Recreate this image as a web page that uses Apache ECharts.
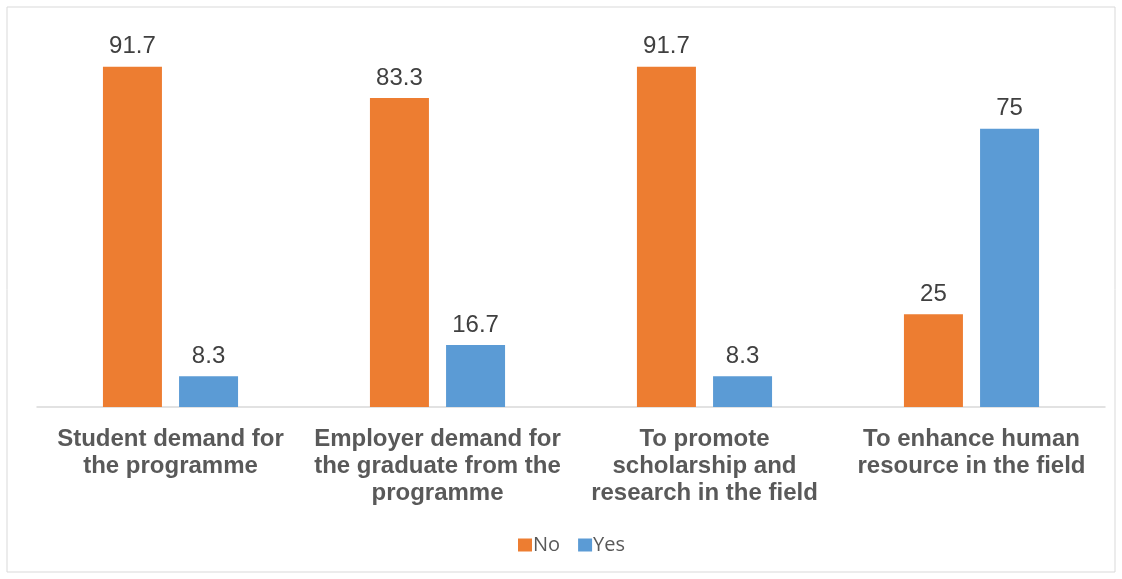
<!DOCTYPE html>
<html>
<head>
<meta charset="utf-8">
<style>
  html, body { margin: 0; padding: 0; background: #ffffff; }
  #chart { width: 1122px; height: 579px; }
</style>
<script src="https://cdn.jsdelivr.net/npm/echarts@6/dist/echarts.min.js"></script>
</head>
<body>
<div id="chart"></div>
<script>
// Reasons given, with the share of respondents answering No / Yes (%)
const categories = [
  'Student demand for\nthe programme',
  'Employer demand for\nthe graduate from the\nprogramme',
  'To promote\nscholarship and\nresearch in the field',
  'To enhance human\nresource in the field'
];
const noValues = [91.7, 83.3, 91.7, 25];
const yesValues = [8.3, 16.7, 8.3, 75];

const chart = echarts.init(document.getElementById('chart'), null, { renderer: 'canvas' });

const valueLabel = {
  show: true,
  position: 'top',
  distance: 8,
  fontFamily: "'Liberation Sans'",
  fontSize: 24,
  color: '#404040'
};

chart.setOption({
  animation: false,
  backgroundColor: '#ffffff',
  graphic: [{
    type: 'rect',
    shape: { x: 7, y: 7, width: 1108, height: 565 },
    style: { fill: 'none', stroke: '#d9d9d9', lineWidth: 1 },
    silent: true
  }],
  grid: { left: 37, right: 17, top: 36, bottom: 172 },
  legend: {
    bottom: 19,
    left: 513,
    itemWidth: 14,
    itemHeight: 13,
    itemGap: 18,
    icon: 'rect',
    textStyle: { fontFamily: "'Open Sans'", fontSize: 20, color: '#595959', padding: [0, 0, 0, -4] },
    data: ['No', 'Yes']
  },
  xAxis: {
    type: 'category',
    data: categories,
    axisLine: { lineStyle: { color: '#d9d9d9', width: 1.5 } },
    axisTick: { show: false },
    axisLabel: {
      interval: 0,
      margin: 19,
      fontFamily: "'Liberation Sans'",
      fontWeight: 'bold',
      fontSize: 24,
      lineHeight: 27,
      color: '#595959',
      align: 'center'
    }
  },
  yAxis: {
    type: 'value',
    min: 0,
    max: 100,
    show: false,
    splitLine: { show: false }
  },
  series: [
    {
      name: 'No',
      type: 'bar',
      data: noValues,
      barWidth: 59,
      barGap: '29%',
      itemStyle: { color: '#ED7D31' },
      label: valueLabel
    },
    {
      name: 'Yes',
      type: 'bar',
      data: yesValues,
      barWidth: 59,
      itemStyle: { color: '#5B9BD5' },
      label: valueLabel
    }
  ]
});
</script>
</body>
</html>
